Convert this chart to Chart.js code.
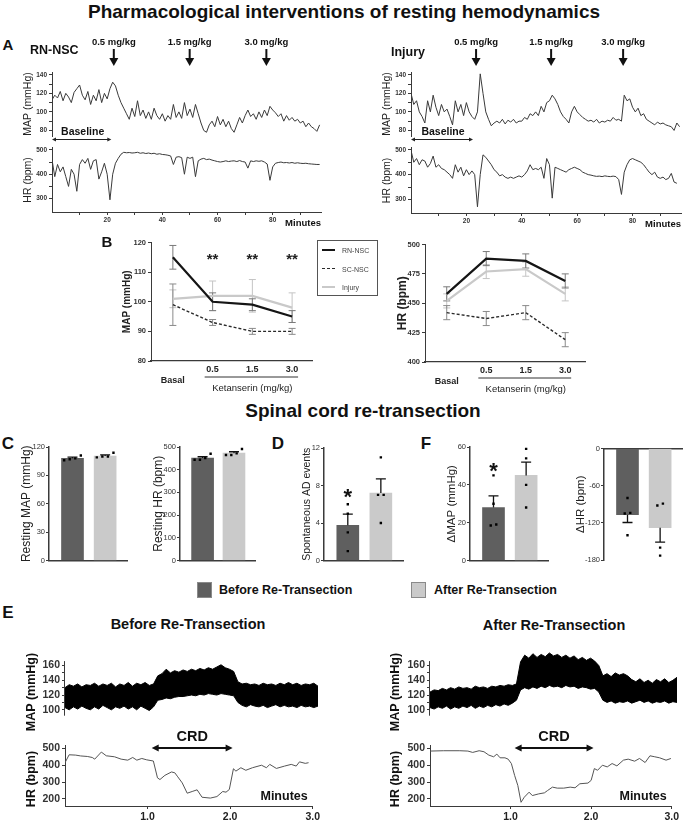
<!DOCTYPE html>
<html><head><meta charset="utf-8"><title>Pharmacological interventions</title>
<script src="https://cdn.jsdelivr.net/npm/chart.js@4.4.1/dist/chart.umd.min.js"></script>
<style>
html,body{margin:0;padding:0;background:#fff}
body{width:688px;height:823px;position:relative;overflow:hidden;font-family:"Liberation Sans",Arial,Helvetica,sans-serif;color:#111}
canvas{position:absolute}
.t{position:absolute;white-space:nowrap;line-height:1}
</style></head><body>
<script>
// ---------------- DATA ----------------
// Panel A traces, one reading per minute (index = minute)
const mapRN = [113,118,115,122,112,120,116,110,121,125,129,118,113,122,108,118,112,124,110,120,114,125,132,128,118,110,104,98,92,104,95,112,96,102,93,100,92,104,96,92,98,90,96,92,108,94,100,93,110,96,103,94,108,98,88,80,78,86,90,84,95,86,92,84,90,82,78,86,94,88,96,102,95,98,92,100,94,102,96,106,102,99,95,98,90,96,91,94,90,92,88,90,84,88,84,82,79,86];
const hrRN = [460,390,440,410,430,390,350,420,400,330,440,460,445,465,420,455,460,380,410,445,400,295,400,445,465,482,490,488,489,487,488,490,486,488,485,487,484,486,482,484,481,480,478,475,440,470,472,468,400,470,465,470,390,455,462,465,460,462,458,455,452,450,452,455,452,454,455,452,456,452,450,425,455,452,455,453,455,450,442,375,430,445,448,450,447,448,446,448,445,447,445,444,445,443,442,441,440,440];
const mapInj = [120,108,112,100,95,88,112,100,118,105,96,108,100,103,95,86,112,100,108,96,110,100,95,92,100,141,120,100,92,85,88,90,88,92,87,91,89,92,88,90,90,94,92,98,96,100,96,106,100,110,112,118,114,108,100,95,92,88,100,106,100,97,94,92,90,91,89,92,88,90,89,91,90,94,91,92,90,118,112,114,105,100,104,96,98,92,90,88,86,89,87,88,86,85,84,80,88,84];
const hrInj = [498,450,465,440,460,455,430,445,475,430,440,425,420,410,400,385,440,410,430,395,420,400,415,400,270,400,480,470,455,440,420,410,395,400,390,385,390,385,390,395,390,400,415,440,420,425,420,430,385,465,440,305,430,425,420,415,410,420,425,430,425,420,410,405,400,398,395,393,394,392,395,393,392,394,392,380,320,410,440,460,465,460,455,450,440,425,410,400,410,390,385,390,380,385,405,370,365];
const doseLabels = ['0.5 mg/kg','1.5 mg/kg','3.0 mg/kg'];
const doseTimesRN = [22.4, 49.9, 77.7];
const doseTimesInj = [23.5, 50.6, 76.6];
const baselineEndRN = 21.5, baselineEndInj = 22.4;
const aMapTicks = [80,90,100,110,120,130,140], aMapLabels = [80,100,120,140];
const aHrTicks = [300,350,400,450,500], aHrLabels = [300,400,500];
const aMinTicks = [10,20,30,40,50,60,70,80,90], aMinLabels = [20,40,60,80];

// Panel B (means and SEM)
const bCats = ['Basal','0.5','1.5','3.0'];
const bSeries = ['RN-NSC','SC-NSC','Injury'];
const bMapRN = [115,100,99,95],  bMapRNErr = [4,3,2,2];
const bMapSC = [99,93,90,90],    bMapSCErr = [7,1,1,1];
const bMapInj = [101,102,102,98],bMapInjErr = [3,5,5.5,5];
const bHrRN = [458,488,486,469], bHrRNErr = [6,6,6,6];
const bHrSC = [442,437,442,419], bHrSCErr = [6,6,6,6];
const bHrInj = [452,477,479,458],bHrInjErr = [6,6,6,6];
const bStarCats = [1,2,3];
const bMapTicks = [80,90,100,110,120], bHrTicks = [400,425,450,475,500];

// Panels C, D, F (before / after re-transection)
const groups = ['Before Re-Transection','After Re-Transection'];
const cMapMean = [108,110.5], cMapSem = [1.3,1.1], cMapPts = [[111,108,106,107],[110,109,110,114]];
const cHrMean = [451,473],    cHrSem = [6,6],     cHrPts = [[444,451,444,470],[465,472,465,491]];
const dMean = [3.75,7.2],     dSem = [1.2,1.5],   dPts = [[1,3,5,6],[4,7,7,11]];
const fMapMean = [28,45],     fMapSem = [6.2,7],  fMapPts = [[19,45,30,18.5],[28,54,59,40]];
const fHrMean = [-107,-128],  fHrSem = [12.5,23], fHrPts = [[-104,-80,-105,-140],[-160,-92,-89,-173]];
const cMapTicks = [0,30,60,90,120], cHrTicks = [0,100,200,300,400,500], dTicks = [0,4,8,12];
const fMapTicks = [0,20,40,60], fHrTicks = [0,-60,-120,-180];
const dStar = 7.2, fStar = 49.5;

// Panel E: MAP envelope (upper/lower) every 0.05 min, HR trace
const eMapStep = 0.05;
const eMapBeforeHi = [130,134,132,135,131,134,133,136,132,135,133,136,131,135,133,137,132,136,134,137,133,135,146,149,155,150,153,151,154,152,155,153,156,154,157,155,158,161,157,155,152,138,135,136,134,135,133,136,134,135,133,136,134,137,134,136,133,135,134,136,132];
const eMapBeforeLo = [103,100,104,101,105,102,100,104,101,106,103,100,104,102,105,101,104,100,105,102,99,104,113,114,116,115,117,118,118,119,120,119,121,120,122,121,120,122,121,120,119,110,106,104,107,105,104,106,103,105,107,104,106,104,105,103,106,104,105,103,105];
const eMapAfterHi = [124,127,126,129,127,130,128,131,129,130,128,132,130,131,129,132,131,133,132,134,133,135,165,174,170,176,171,175,172,177,173,175,171,174,170,173,168,171,167,170,166,160,146,149,145,150,147,149,146,141,138,142,137,140,136,141,138,142,137,140,144];
const eMapAfterLo = [103,101,104,102,105,101,104,102,105,103,106,102,105,103,106,104,107,105,108,106,109,113,127,130,128,131,129,132,130,133,131,132,130,133,131,132,129,131,130,128,129,124,113,110,112,109,111,110,112,109,111,113,110,112,109,111,110,112,109,111,110];
const eHrBeforeT = [0,0.05,0.13,0.19,0.27,0.33,0.36,0.44,0.5,0.6,0.68,0.76,0.82,0.87,0.93,0.99,1.07,1.12,1.15,1.21,1.29,1.33,1.36,1.42,1.48,1.54,1.6,1.66,1.76,1.84,1.91,1.95,1.99,2.04,2.07,2.13,2.19,2.27,2.38,2.44,2.48,2.56,2.66,2.74,2.8,2.84,2.91,2.95];
const eHrBeforeV = [415,462,460,455,452,446,436,478,456,450,436,430,446,430,440,432,425,325,315,340,360,355,335,295,234,244,254,210,205,214,244,240,256,379,365,385,370,385,400,385,405,381,395,405,395,420,411,415];
const eHrAfterT = [0,0.17,0.37,0.47,0.53,0.61,0.67,0.73,0.79,0.83,0.87,0.93,0.97,1.01,1.05,1.09,1.13,1.17,1.23,1.27,1.35,1.42,1.46,1.52,1.58,1.66,1.74,1.8,1.86,1.96,2.0,2.04,2.08,2.14,2.2,2.26,2.32,2.4,2.46,2.54,2.6,2.67,2.73,2.79,2.85,2.93,2.99];
const eHrAfterV = [484,486,486,484,476,486,480,460,450,466,444,444,436,410,340,280,180,210,240,220,230,236,250,270,264,264,270,266,290,294,310,380,370,400,390,410,396,430,436,424,440,416,456,450,444,430,440];
const crdStart = 1.05, crdEnd = 2.03;
const eMapTicks = [100,110,120,130,140,150,160], eMapLabels = [100,120,140,160];
const eMapAxisMin = 92, eMapAxisMax = 166;
const eHrTicks = [200,300,400,500], eMinTicks = [1,2,3];

// ---------------- HELPERS ----------------
const FF = '"Liberation Sans", Arial, Helvetica, sans-serif';
Chart.defaults.font.family = FF;
Chart.defaults.color = '#222';
const AX = '#3a3a3a', DARK = '#5f5f5f', LIGHT = '#cacaca';

function T(s, x, y, size, bold, align, color) {
  const d = document.createElement('div');
  d.className = 't'; d.textContent = s;
  d.style.fontSize = size + 'px'; d.style.fontWeight = bold ? 'bold' : 'normal';
  d.style.left = x + 'px'; d.style.top = y + 'px';
  if (color) d.style.color = color;
  d.style.transform = align === 'left' ? 'translate(0,-50%)' : align === 'right' ? 'translate(-100%,-50%)' : 'translate(-50%,-50%)';
  document.body.appendChild(d);
  return d;
}
function RT(s, x, y, size, bold) {
  const d = T(s, x, y, size, bold);
  d.style.transform = 'translate(-50%,-50%) rotate(-90deg)';
  return d;
}

function mk(area, m, cfg) {
  const c = document.createElement('canvas');
  const w = area.r - area.l + m.l + m.r, h = area.b - area.t + m.t + m.b;
  c.width = w; c.height = h;
  Object.assign(c.style, {left:(area.l-m.l)+'px', top:(area.t-m.t)+'px', width:w+'px', height:h+'px'});
  document.body.appendChild(c);
  const o = cfg.options;
  Object.assign(o, {responsive:false, animation:false, devicePixelRatio:1, maintainAspectRatio:false});
  const xTop = o.scales.x.position === 'top';
  o.layout = {padding:{top: xTop ? 0 : m.t, bottom: xTop ? m.b : 0, left:0, right:m.r}};
  o.scales.y.afterFit = s => { s.width = m.l; };
  o.scales.x.afterFit = s => { s.height = xTop ? m.t : m.b; };
  o.plugins = Object.assign({legend:{display:false}, tooltip:{enabled:false}}, o.plugins || {});
  return new Chart(c, cfg);
}

function tickCfg(values, labels, fmt) {
  return {
    afterBuildTicks: s => { s.ticks = values.map(v => ({value:v})); },
    callback: v => (!labels || labels.includes(v)) ? (fmt ? fmt(v) : String(v)) : ''
  };
}

function yAxis(min, max, values, labels, title, tfont, titleFont, extra, pad) {
  const tc = tickCfg(values, labels);
  return Object.assign({
    type:'linear', min, max, position:'left',
    afterBuildTicks: tc.afterBuildTicks,
    ticks:{callback: tc.callback, font:tfont, color:'#333', padding: pad === undefined ? 2 : pad, autoSkip:false, maxRotation:0},
    grid:{display:true, drawOnChartArea:false, drawTicks:true, tickLength:3, color:AX, lineWidth:1},
    border:{display:true, color:AX, width:1},
    title:{display:!!title, text:title || '', font:titleFont, color:'#222', padding:0}
  }, extra || {});
}

function hiddenX(min, max) {
  return {type:'linear', min, max, offset:false, ticks:{display:false}, grid:{display:false}, border:{display:false}};
}

function arrowHead(ctx, x, y, dir, len, half) {
  ctx.beginPath();
  if (dir === 'down') { ctx.moveTo(x, y); ctx.lineTo(x-half, y-len); ctx.lineTo(x+half, y-len); }
  else if (dir === 'left') { ctx.moveTo(x, y); ctx.lineTo(x+len, y-half); ctx.lineTo(x+len, y+half); }
  else { ctx.moveTo(x, y); ctx.lineTo(x-len, y-half); ctx.lineTo(x-len, y+half); }
  ctx.closePath(); ctx.fill();
}

function dblArrow(ctx, x1, x2, y, lw, len, half) {
  ctx.lineWidth = lw;
  ctx.beginPath(); ctx.moveTo(x1 + len*0.6, y); ctx.lineTo(x2 - len*0.6, y); ctx.stroke();
  arrowHead(ctx, x1, y, 'left', len, half);
  arrowHead(ctx, x2, y, 'right', len, half);
}

// ---------------- PANEL A ----------------
function traceA(areaMap, areaHr, mapV, hrV, doses, baseEnd) {
  mk(areaMap, {l:30, t:40, r:4, b:9}, {
    type:'line',
    data:{datasets:[{data: mapV.map((v,i)=>({x:i,y:v})), borderColor:'#3a3a3a', borderWidth:1, pointRadius:0, tension:0}]},
    options:{
      scales:{x: hiddenX(0, 97.5),
              y: yAxis(74, 143, aMapTicks, aMapLabels, 'MAP (mmHg)', {size:6.5, weight:'bold'}, {size:10.5})},
      plugins:{}
    },
    plugins:[{id:'doses', afterDraw(ch){
      const ctx = ch.ctx, x = ch.scales.x, a = ch.chartArea;
      ctx.save();
      ctx.fillStyle = '#111'; ctx.strokeStyle = '#111';
      ctx.font = 'bold 9.5px ' + FF; ctx.textAlign = 'center'; ctx.textBaseline = 'middle';
      doses.forEach((t, i) => {
        const px = x.getPixelForValue(t);
        ctx.fillText(doseLabels[i], px, a.top - 30);
        ctx.lineWidth = 2;
        ctx.beginPath(); ctx.moveTo(px, a.top - 23); ctx.lineTo(px, a.top - 13); ctx.stroke();
        arrowHead(ctx, px, a.top - 6, 'down', 8, 4.5);
      });
      const x0 = x.getPixelForValue(0), x1 = x.getPixelForValue(baseEnd);
      ctx.strokeStyle = '#222'; ctx.fillStyle = '#222';
      dblArrow(ctx, x0, x1, a.bottom + 3.5, 1, 4, 2);
      ctx.fillStyle = '#111';
      ctx.font = 'bold 10.5px ' + FF;
      ctx.fillText('Baseline', (x0 + x1) / 2 + 1, a.bottom - 4);
      ctx.restore();
    }}]
  });
  const tc = tickCfg(aMinTicks, aMinLabels);
  mk(areaHr, {l:30, t:3, r:4, b:18}, {
    type:'line',
    data:{datasets:[{data: hrV.map((v,i)=>({x:i,y:v})), borderColor:'#3a3a3a', borderWidth:1, pointRadius:0, tension:0}]},
    options:{
      scales:{
        x:{type:'linear', min:0, max:97.5, position:'bottom', offset:false,
           afterBuildTicks: tc.afterBuildTicks,
           ticks:{callback: tc.callback, font:{size:6.5, weight:'bold'}, color:'#333', padding:1, maxRotation:0, autoSkip:false},
           grid:{display:true, drawOnChartArea:false, drawTicks:true, tickLength:3, color:AX},
           border:{display:true, color:AX, width:1}},
        y: yAxis(245, 508, aHrTicks, aHrLabels, 'HR (bpm)', {size:6.5, weight:'bold'}, {size:10.5})
      }
    },
    plugins:[{id:'mins', afterDraw(ch){
      const ctx = ch.ctx, a = ch.chartArea;
      ctx.save(); ctx.fillStyle = '#111'; ctx.font = 'bold 9.5px ' + FF;
      ctx.textAlign = 'right'; ctx.textBaseline = 'middle';
      ctx.fillText('Minutes', a.right, a.bottom + 11);
      ctx.restore();
    }}]
  });
}
traceA({l:52, t:72, r:321, b:136}, {l:52, t:145, r:321, b:212}, mapRN, hrRN, doseTimesRN, baselineEndRN);
traceA({l:411, t:72, r:681, b:136}, {l:411, t:145, r:681, b:213}, mapInj, hrInj, doseTimesInj, baselineEndInj);

// ---------------- PANEL B ----------------
function errPlugin(sets) {
  return {id:'err', beforeDatasetsDraw(ch){
    const ctx = ch.ctx, x = ch.scales.x, y = ch.scales.y;
    ctx.save();
    sets.forEach(s => {
      ctx.strokeStyle = s.color; ctx.lineWidth = 1;
      s.mean.forEach((m, i) => {
        const px = x.getPixelForValue(i), y1 = y.getPixelForValue(m - s.err[i]), y2 = y.getPixelForValue(m + s.err[i]);
        ctx.beginPath();
        ctx.moveTo(px, y1); ctx.lineTo(px, y2);
        ctx.moveTo(px - 3.5, y1); ctx.lineTo(px + 3.5, y1);
        ctx.moveTo(px - 3.5, y2); ctx.lineTo(px + 3.5, y2);
        ctx.stroke();
      });
    });
    ctx.restore();
  }};
}
function bChart(area, rn, rnE, sc, scE, inj, injE, yMin, yMax, ticks, title, titleFont, stars, starVal) {
  const pts = arr => arr.map((v,i)=>({x:i,y:v}));
  mk(area, {l:30, t:6, r:4, b:34}, {
    type:'line',
    data:{datasets:[
      {data:pts(inj), borderColor:'#c9c9c9', borderWidth:2.2, pointRadius:0, tension:0, order:3},
      {data:pts(sc), borderColor:'#2a2a2a', borderWidth:1.4, borderDash:[3,2], pointRadius:0, tension:0, order:2},
      {data:pts(rn), borderColor:'#151515', borderWidth:2.2, pointRadius:0, tension:0, order:1}
    ]},
    options:{
      scales:{
        x:{type:'linear', min:-0.55, max:3.5, position:'bottom', offset:false,
           afterBuildTicks: s => { s.ticks = bCats.map((c,i)=>({value:i})); },
           ticks:{callback: v => v === 0 ? ['', bCats[0]] : bCats[v], font:{size:9, weight:'bold'}, color:'#222', padding:3, maxRotation:0, autoSkip:false},
           grid:{display:false, drawTicks:false},
           border:{display:true, color:AX, width:1.2}},
        y: yAxis(yMin, yMax, ticks, null, title, {size:7.5, weight:'bold'}, titleFont)
      }
    },
    plugins:[errPlugin([
      {mean:inj, err:injE, color:'#c4c4c4'},
      {mean:sc, err:scE, color:'#8a8a8a'},
      {mean:rn, err:rnE, color:'#7a7a7a'}
    ]), {id:'kx', afterDraw(ch){
      const ctx = ch.ctx, x = ch.scales.x, y = ch.scales.y, a = ch.chartArea;
      ctx.save();
      ctx.strokeStyle = '#333'; ctx.lineWidth = 1;
      ctx.beginPath(); ctx.moveTo(x.getPixelForValue(0.8), a.bottom + 16); ctx.lineTo(x.getPixelForValue(3.15), a.bottom + 16); ctx.stroke();
      ctx.fillStyle = '#222'; ctx.font = '9.5px ' + FF; ctx.textAlign = 'center'; ctx.textBaseline = 'middle';
      ctx.fillText('Ketanserin (mg/kg)', x.getPixelForValue(2), a.bottom + 27);
      if (stars) {
        ctx.fillStyle = '#222'; ctx.font = 'bold 15px ' + FF;
        stars.forEach(i => ctx.fillText('**', x.getPixelForValue(i), y.getPixelForValue(starVal) + 3));
      }
      ctx.restore();
    }}]
  });
}
bChart({l:151, t:242, r:312, b:361}, bMapRN, bMapRNErr, bMapSC, bMapSCErr, bMapInj, bMapInjErr, 80, 120, bMapTicks, 'MAP (mmHg)', {size:10, weight:'bold'}, bStarCats, 115);
bChart({l:425, t:244, r:585, b:362}, bHrRN, bHrRNErr, bHrSC, bHrSCErr, bHrInj, bHrInjErr, 400, 500, bHrTicks, 'HR (bpm)', {size:12, weight:'bold'}, null, 0);

// B legend (HTML)
(function(){
  const box = document.createElement('div');
  Object.assign(box.style, {position:'absolute', left:'317px', top:'240px', width:'61px', height:'56px', border:'1px solid #555', boxSizing:'border-box', background:'#fff'});
  document.body.appendChild(box);
  const styles = [
    {c:'#151515', w:2, dash:'solid'},
    {c:'#2a2a2a', w:1.5, dash:'dashed'},
    {c:'#c9c9c9', w:2, dash:'solid'}
  ];
  bSeries.forEach((s, i) => {
    const y = 250 + i * 18.5;
    const ln = document.createElement('div');
    Object.assign(ln.style, {position:'absolute', left:'322px', top:(y - 1)+'px', width:'13px', height:'0', borderTop: styles[i].w + 'px ' + styles[i].dash + ' ' + styles[i].c});
    document.body.appendChild(ln);
    T(s, 342, y, 7, false, 'left', '#444');
  });
})();

// ---------------- PANELS C, D, F ----------------
function jitter(groupsPts, range) {
  const out = [];
  groupsPts.forEach((arr, g) => {
    const idx = arr.map((v, i) => i).sort((a, b) => arr[a] - arr[b]);
    const clusters = [];
    idx.forEach(i => {
      const last = clusters[clusters.length - 1];
      if (last && Math.abs(arr[i] - arr[last[last.length - 1]]) < range * 0.045) last.push(i); else clusters.push([i]);
    });
    clusters.forEach(cl => cl.forEach((i, j) => out.push({x: g + (j - (cl.length - 1) / 2) * 0.17, y: arr[i]})));
  });
  return out;
}
function barChart(area, mean, sem, ptsArr, yMin, yMax, ticks, title, titleFont, tickFont, opts) {
  opts = opts || {};
  const neg = yMax <= 0;
  return mk(area, opts.m || {l:27, t:6, r:4, b:3}, {
    type:'bar',
    data:{datasets:[
      {type:'bar', data: mean.map((v,i)=>({x:i,y:v})), backgroundColor:[DARK, LIGHT], borderWidth:0, barThickness:22, order:2},
      {type:'scatter', data: jitter(ptsArr, yMax - yMin), pointStyle:'rect', pointRadius:1.7, backgroundColor:'#000', borderWidth:0, order:1}
    ]},
    options:{
      scales:{
        x:{type:'linear', min:-0.72, max:1.67, offset:false, position: neg ? 'top' : 'bottom', ticks:{display:false}, grid:{display:false, offset:false},
           border:{display:true, color:AX, width:1.5}},
        y: yAxis(yMin, yMax, ticks, null, title, tickFont, titleFont, {border:{display:true, color:AX, width:1.5}}, 1)
      }
    },
    plugins:[{id:'eb', afterDatasetDraw(ch, args){
      if (args.index !== 0) return;
      const ctx = ch.ctx, x = ch.scales.x, y = ch.scales.y;
      ctx.save(); ctx.strokeStyle = '#111'; ctx.lineWidth = 1.3;
      mean.forEach((m, i) => {
        const px = x.getPixelForValue(i), y1 = y.getPixelForValue(m), y2 = y.getPixelForValue(neg ? m - sem[i] : m + sem[i]);
        ctx.beginPath(); ctx.moveTo(px, y1); ctx.lineTo(px, y2);
        ctx.moveTo(px - 5, y2); ctx.lineTo(px + 5, y2); ctx.stroke();
      });
      if (opts.star !== undefined) {
        ctx.fillStyle = '#111'; ctx.font = 'bold 22px ' + FF; ctx.textAlign = 'center'; ctx.textBaseline = 'middle';
        ctx.fillText('*', x.getPixelForValue(0), y.getPixelForValue(opts.star) + 5);
      }
      ctx.restore();
    }}]
  });
}
const tf = {size:7.5};
barChart({l:49, t:447, r:127, b:563}, cMapMean, cMapSem, cMapPts, 0, 120, cMapTicks, 'Resting MAP (mmHg)', {size:12}, tf, {m:{l:30, t:6, r:4, b:3}});
barChart({l:180, t:447, r:255, b:563}, cHrMean, cHrSem, cHrPts, 0, 500, cHrTicks, 'Resting HR (bpm)', {size:12}, tf, {m:{l:29, t:6, r:4, b:3}});
barChart({l:324, t:448, r:403, b:563}, dMean, dSem, dPts, 0, 12, dTicks, 'Spontaneous AD events', {size:10.5}, tf, {star:dStar, m:{l:23, t:6, r:4, b:3}});
barChart({l:470, t:447, r:548, b:563}, fMapMean, fMapSem, fMapPts, 0, 60, fMapTicks, 'ΔMAP (mmHg)', {size:11.5}, tf, {star:fStar, m:{l:25, t:6, r:4, b:3}});
barChart({l:604, t:446, r:682, b:560}, fHrMean, fHrSem, fHrPts, -180, 0, fHrTicks, 'ΔHR (bpm)', {size:11.5}, tf, {m:{l:30, t:3, r:5, b:6}});

// legend row
(function(){
  [[DARK, 197, 'Before Re-Transection', 219], [LIGHT, 411, 'After Re-Transection', 434]].forEach(e => {
    const sq = document.createElement('div');
    Object.assign(sq.style, {position:'absolute', left:e[1]+'px', top:'582px', width:'15px', height:'16px', background:e[0], border:'1px solid #8a8a8a', boxSizing:'border-box'});
    document.body.appendChild(sq);
    T(e[2], e[3], 590, 12.5, true, 'left');
  });
})();

// ---------------- PANEL E ----------------
function traceE(areaMap, areaHr, hi, lo, hrT, hrV) {
  const env = arr => arr.map((v,i)=>({x: +(i*eMapStep).toFixed(2), y:v}));
  const yM = yAxis(92, 182, eMapTicks, eMapLabels, null, {size:10.5, weight:'bold'}, null, {border:{display:false}});
  mk(areaMap, {l:46, t:4, r:4, b:4}, {
    type:'line',
    data:{datasets:[
      {data: env(hi), borderColor:'#000', borderWidth:1, pointRadius:0, tension:0, fill:'+1', backgroundColor:'#000'},
      {data: env(lo), borderColor:'#000', borderWidth:1, pointRadius:0, tension:0, fill:false}
    ]},
    options:{
      scales:{x: hiddenX(0, 3), y: yM},
      plugins:{filler:{propagate:false}}
    },
    plugins:[{id:'yline', afterDraw(ch){
      const ctx = ch.ctx, y = ch.scales.y, a = ch.chartArea;
      ctx.save(); ctx.strokeStyle = AX; ctx.lineWidth = 1;
      ctx.beginPath(); ctx.moveTo(a.left - 0.5, y.getPixelForValue(eMapAxisMin)); ctx.lineTo(a.left - 0.5, y.getPixelForValue(eMapAxisMax)); ctx.stroke();
      ctx.restore();
    }}]
  });
  const tc = tickCfg(eMinTicks, null, v => v.toFixed(1));
  mk(areaHr, {l:46, t:20, r:4, b:17}, {
    type:'line',
    data:{datasets:[{data: hrT.map((t,i)=>({x:t, y:hrV[i]})), borderColor:'#555', borderWidth:1, pointRadius:0, tension:0}]},
    options:{
      scales:{
        x:{type:'linear', min:0, max:3, position:'bottom', offset:false,
           afterBuildTicks: tc.afterBuildTicks,
           ticks:{callback: tc.callback, font:{size:10.5, weight:'bold'}, color:'#222', padding:2, maxRotation:0, autoSkip:false},
           grid:{display:true, drawOnChartArea:false, drawTicks:true, tickLength:3, color:AX},
           border:{display:true, color:AX, width:1}},
        y: yAxis(158, 520, eHrTicks, null, null, {size:10.5, weight:'bold'}, null)
      }
    },
    plugins:[{id:'crd', afterDraw(ch){
      const ctx = ch.ctx, x = ch.scales.x, a = ch.chartArea;
      ctx.save();
      ctx.fillStyle = '#111'; ctx.strokeStyle = '#111';
      dblArrow(ctx, x.getPixelForValue(crdStart), x.getPixelForValue(crdEnd), a.top + 3, 2, 7, 3.5);
      ctx.font = 'bold 14.5px ' + FF; ctx.textAlign = 'center'; ctx.textBaseline = 'middle';
      ctx.fillText('CRD', x.getPixelForValue((crdStart + crdEnd) / 2), a.top - 8);
      ctx.font = 'bold 12.5px ' + FF; ctx.textAlign = 'right';
      ctx.fillText('Minutes', a.right - 5, a.bottom - 9);
      ctx.restore();
    }}]
  });
}
traceE({l:65, t:645, r:318, b:720}, {l:65, t:745, r:318, b:806}, eMapBeforeHi, eMapBeforeLo, eHrBeforeT, eHrBeforeV);
traceE({l:430, t:645, r:677, b:720}, {l:430, t:745, r:677, b:806}, eMapAfterHi, eMapAfterLo, eHrAfterT, eHrAfterV);

// ---------------- HTML TEXT ----------------
T('Pharmacological interventions of resting hemodynamics', 344, 11, 19, true);
T('A', 8, 44, 15, true);
T('RN-NSC', 30, 50, 12.5, true, 'left');
T('Injury', 391, 52, 12.5, true, 'left');
T('B', 107, 241, 15, true);
T('Spinal cord re-transection', 363, 410, 19, true);
T('C', 8, 443, 17, true);
T('D', 278, 443, 17, true);
T('F', 426, 443, 17, true);
T('E', 8, 612, 17, true);
T('Before Re-Transection', 188, 624, 14.5, true);
T('After Re-Transection', 554, 625, 14.5, true);
RT('MAP (mmHg)', 31, 692, 12.5, true);
RT('HR (bpm)', 31, 779, 12.5, true);
RT('MAP (mmHg)', 395, 692, 12.5, true);
RT('HR (bpm)', 395, 779, 12.5, true);
</script>
</body></html>
